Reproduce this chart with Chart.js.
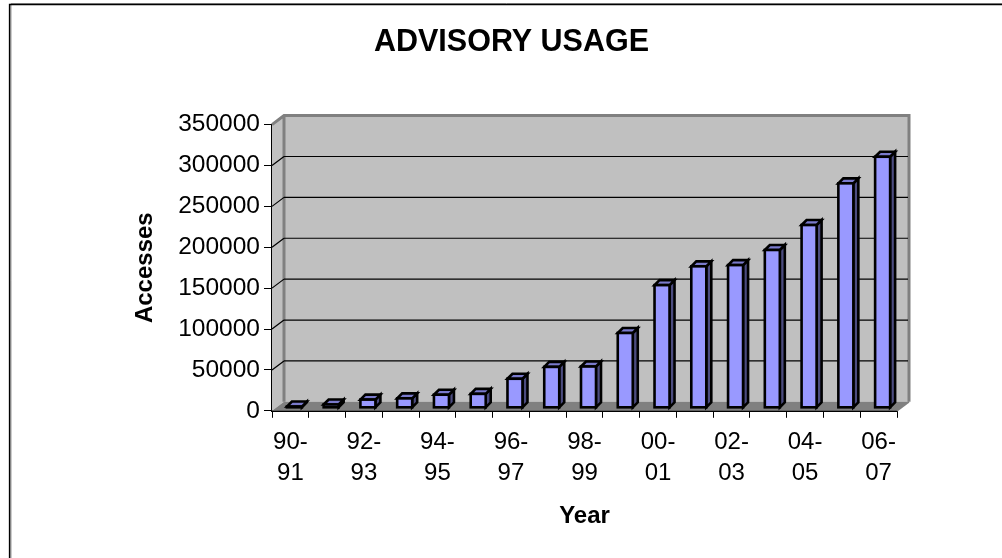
<!DOCTYPE html>
<html>
<head>
<meta charset="utf-8">
<style>
html, body { margin: 0; padding: 0; background: #fff; }
#wrap { width: 1002px; height: 558px; position: relative; }
</style>
<script src="https://cdn.jsdelivr.net/npm/chart.js@4"></script>
</head>
<body>
<div id="wrap"><canvas id="usage"></canvas></div>
<script>
const years = ['90-91','91-92','92-93','93-94','94-95','95-96','96-97','97-98','98-99','99-00','00-01','01-02','02-03','03-04','04-05','05-06','06-07'];
const accesses = [1500,4000,10000,11500,16000,17000,35500,50000,50500,91500,150000,173000,174500,193000,223500,274500,307000];

const fontName = '"Liberation Sans", Arial, sans-serif';
const depthX = 12; // profondeur du mur du fond
const depthY = 9;
const barDx = 4;   // decalage de la barre dans la profondeur
const barDy = 3;
const barSide = 5;

// mur du fond, sol et grille, dessines avant les barres
const walls = {
    id: 'walls',
    beforeDatasetsDraw(chart) {
        const c = chart.ctx, a = chart.chartArea, y = chart.scales.y;
        c.save();
        c.fillStyle = '#c0c0c0';
        c.fillRect(a.left + depthX, a.top - depthY, a.width, a.height);
        // paroi gauche
        c.beginPath();
        c.moveTo(a.left, a.top); c.lineTo(a.left + depthX, a.top - depthY);
        c.lineTo(a.left + depthX, a.bottom - depthY); c.lineTo(a.left, a.bottom);
        c.closePath(); c.fill();
        // sol
        c.fillStyle = '#808080';
        c.beginPath();
        c.moveTo(a.left, a.bottom); c.lineTo(a.left + depthX, a.bottom - depthY);
        c.lineTo(a.right + depthX, a.bottom - depthY); c.lineTo(a.right, a.bottom);
        c.closePath(); c.fill();
        // bords gris
        c.strokeStyle = '#808080';
        c.lineWidth = 3;
        c.beginPath();
        c.moveTo(a.left, a.top); c.lineTo(a.left + depthX, a.top - depthY);
        c.lineTo(a.right + depthX, a.top - depthY);
        c.lineTo(a.right + depthX, a.bottom - depthY);
        c.moveTo(a.left + depthX, a.top - depthY);
        c.lineTo(a.left + depthX, a.bottom - depthY);
        c.stroke();
        c.lineWidth = 1.5;
        c.beginPath();
        c.moveTo(a.right + depthX, a.bottom - depthY);
        c.lineTo(a.right, a.bottom);
        c.stroke();
        // grille
        c.strokeStyle = '#000';
        c.lineWidth = 1.2;
        y.ticks.forEach(t => {
            if (t.value <= 0 || t.value >= y.max) return;
            const py = y.getPixelForValue(t.value);
            c.beginPath();
            c.moveTo(a.left + depthX, py - depthY);
            c.lineTo(a.right + depthX - 1, py - depthY);
            c.moveTo(a.left, py);
            c.lineTo(a.left + depthX, py - depthY);
            c.stroke();
        });
        c.restore();
    }
};

// faces laterale et superieure des barres
const faces = {
    id: 'faces',
    afterDatasetsDraw(chart) {
        const c = chart.ctx;
        c.save();
        c.lineWidth = 2.6;
        c.strokeStyle = '#000';
        c.lineJoin = 'miter';
        chart.getDatasetMeta(0).data.forEach(b => {
            const l = b.x - b.width / 2 + barDx, r = b.x + b.width / 2 + barDx;
            const t = b.y - barDy, bt = b.base - barDy;
            c.fillStyle = '#4c4c80';
            c.beginPath();
            c.moveTo(r, t); c.lineTo(r + barSide, t - barSide);
            c.lineTo(r + barSide, bt - barSide); c.lineTo(r, bt);
            c.closePath(); c.fill(); c.stroke();
            c.fillStyle = '#7a7acc';
            c.beginPath();
            c.moveTo(l, t); c.lineTo(l + barSide, t - barSide);
            c.lineTo(r + barSide, t - barSide); c.lineTo(r, t);
            c.closePath(); c.fill(); c.stroke();
            c.fillStyle = '#9999ff';
            c.fillRect(l, t, r - l, bt - t);
            c.strokeRect(l, t, r - l, bt - t);
        });
        c.restore();
    }
};

// cadre exterieur de la figure
const frame = {
    id: 'frame',
    afterDraw(chart) {
        const c = chart.ctx;
        c.save();
        c.strokeStyle = '#999';
        c.lineWidth = 1;
        c.beginPath();
        c.moveTo(11, 558); c.lineTo(11, 3.5); c.lineTo(1002, 3.5);
        c.stroke();
        c.strokeStyle = '#000';
        c.lineWidth = 1.5;
        c.beginPath();
        c.moveTo(9.6, 558); c.lineTo(9.6, 4.6); c.lineTo(1002, 4.6);
        c.stroke();
        c.restore();
    }
};

new Chart(document.getElementById('usage').getContext('2d'), {
    type: 'bar',
    data: {
        labels: years,
        datasets: [{
            label: 'Accesses',
            data: accesses,
            backgroundColor: 'rgba(0,0,0,0)',
            borderWidth: 0,
            barThickness: 15
        }]
    },
    plugins: [walls, faces, frame],
    options: {
        responsive: true,
        maintainAspectRatio: false,
        animation: { duration: 0 },
        layout: { padding: { left: 126, right: 105, top: 24, bottom: 27 } },
        plugins: {
            legend: { display: false },
            tooltip: { enabled: false },
            title: {
                display: true,
                text: 'ADVISORY USAGE',
                color: '#000',
                font: { family: fontName, size: 30.5, weight: 'bold' },
                padding: { top: 0, bottom: 64 }
            }
        },
        scales: {
            x: {
                grid: { drawOnChartArea: false, drawTicks: true, color: '#000', tickLength: 7, lineWidth: 1 },
                border: { color: '#000', width: 2 },
                title: {
                    display: true,
                    text: 'Year',
                    color: '#000',
                    font: { family: fontName, size: 24, weight: 'bold' },
                    padding: { top: 4, bottom: 0 }
                },
                ticks: {
                    color: '#000',
                    autoSkip: false,
                    maxRotation: 0,
                    font: { family: fontName, size: 24, lineHeight: 1.3 },
                    padding: 9,
                    callback(v, i) {
                        if (i % 2) return '';
                        const p = years[i].split('-');
                        return [p[0] + '-', p[1]];
                    }
                }
            },
            y: {
                min: 0,
                max: 350000,
                afterFit(s) { s.width = 146; },
                grid: { drawOnChartArea: false, drawTicks: true, color: '#000', tickLength: 8 },
                border: { color: '#000', width: 2 },
                title: {
                    display: true,
                    text: 'Accesses',
                    color: '#000',
                    font: { family: fontName, size: 24, weight: 'bold' },
                    padding: { top: 5, bottom: 0 }
                },
                ticks: {
                    color: '#000',
                    stepSize: 50000,
                    font: { family: fontName, size: 24.5 },
                    padding: 4,
                    callback: v => String(v)
                }
            }
        }
    }
});
</script>
</body>
</html>
